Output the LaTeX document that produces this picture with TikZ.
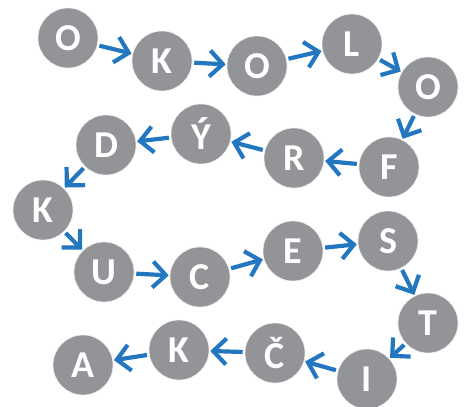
\documentclass[tikz,border=0pt]{standalone}
\usepackage{fontspec}
\setmainfont{Carlito}
\usetikzlibrary{arrows.meta}
\definecolor{ballgray}{RGB}{147,148,152}
\definecolor{arrowblue}{RGB}{34,119,192}

\begin{document}
\begin{tikzpicture}[x=1pt, y=-1pt,
		ball/.style={circle, fill=ballgray, draw=white!85!ballgray, line width=0.6pt, minimum size=60pt, inner sep=0pt,
			text=white, font=\fontsize{38}{38}\bfseries\selectfont},
		link/.style={draw=arrowblue, line width=4.2pt, shorten <=2pt, shorten >=1pt,
			-{Straight Barb[length=13pt, width=26pt]}}]
			%%%%% START %%%%%
			
			\useasboundingbox (0, 0) rectangle (464, 407);
			
			\node[ball] (o1) at (68, 38) {O};
			\node[ball] (k1) at (162, 61) {K};
			\node[ball] (o2) at (257, 66) {O};
			\node[ball] (l) at (352, 44) {L};
			\node[ball] (o3) at (428, 87) {O};
			
			\node[ball] (f) at (389, 167) {F};
			\node[ball] (r) at (294, 158) {R};
			\node[ball] (y) at (201, 134) {Ý};
			\node[ball] (d) at (106, 145) {D};
			\node[ball] (k2) at (43, 210) {K};
			
			\node[ball] (u) at (104, 272) {U};
			\node[ball] (c) at (200, 277) {C};
			\node[ball] (e) at (293, 251) {E};
			\node[ball] (s) at (388, 241) {S};
			\node[ball] (t) at (428, 323) {T};
			
			\node[ball] (i) at (367, 379) {I};
			\node[ball] (cz) at (275, 353) {Č};
			\node[ball] (k3) at (179, 350) {K};
			\node[ball] (a) at (83, 365) {A};
			
			\draw[link] (o1) -- (k1);
			\draw[link] (k1) -- (o2);
			\draw[link] (o2) -- (l);
			\draw[link] (l) -- (o3);
			\draw[link] (o3) -- (f);
			\draw[link] (f) -- (r);
			\draw[link] (r) -- (y);
			\draw[link] (y) -- (d);
			\draw[link] (d) -- (k2);
			\draw[link] (k2) -- (u);
			\draw[link] (u) -- (c);
			\draw[link] (c) -- (e);
			\draw[link] (e) -- (s);
			\draw[link] (s) -- (t);
			\draw[link] (t) -- (i);
			\draw[link] (i) -- (cz);
			\draw[link] (cz) -- (k3);
			\draw[link] (k3) -- (a);
			
			%%%%% END %%%%%
\end{tikzpicture}
\end{document}
